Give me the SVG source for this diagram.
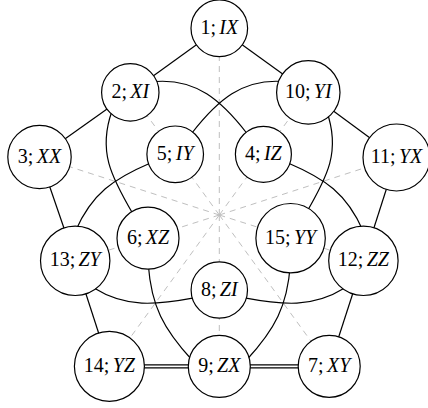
<svg xmlns="http://www.w3.org/2000/svg" width="428" height="408" viewBox="0 0 428 408">
<style>
.bg{fill:#ffffff}
.e{fill:none;stroke:#000;stroke-width:1.2}
.d{fill:none;stroke:#bfbfbf;stroke-width:1;stroke-dasharray:6 5}
.dbo{fill:none;stroke:#000;stroke-width:4.2}
.dbi{fill:none;stroke:#fff;stroke-width:1.8}
.n circle{fill:#fff;stroke:#000;stroke-width:1.2}
.n text{font-family:"Liberation Serif","DejaVu Serif",serif;font-size:20px;fill:#000;text-anchor:middle}
.i{font-style:italic}
</style>
<rect class="bg" x="0" y="0" width="428" height="408"/>
<g id="guides">
<line class="d" x1="219.3" y1="215" x2="219.3" y2="28.3"/>
<line class="d" x1="219.3" y1="215" x2="308.3" y2="92.4"/>
<line class="d" x1="219.3" y1="215" x2="396.5" y2="157.5"/>
<line class="d" x1="219.3" y1="215" x2="363.4" y2="260.8"/>
<line class="d" x1="219.3" y1="215" x2="329.2" y2="366.3"/>
<line class="d" x1="219.3" y1="215" x2="219.3" y2="366.4"/>
<line class="d" x1="219.3" y1="215" x2="109.4" y2="366.3"/>
<line class="d" x1="219.3" y1="215" x2="75.2" y2="260.8"/>
<line class="d" x1="219.3" y1="215" x2="39.5" y2="157"/>
<line class="d" x1="219.3" y1="215" x2="130.3" y2="92.4"/>
</g>
<g id="connectors">
<line class="e" x1="219.3" y1="28.3" x2="130.3" y2="92.4"/>
<line class="e" x1="219.3" y1="28.3" x2="308.3" y2="92.4"/>
<line class="e" x1="130.3" y1="92.4" x2="39.5" y2="157"/>
<line class="e" x1="308.3" y1="92.4" x2="396.5" y2="157.5"/>
<line class="e" x1="39.5" y1="157" x2="75.2" y2="260.8"/>
<line class="e" x1="396.5" y1="157.5" x2="363.4" y2="260.8"/>
<line class="e" x1="75.2" y1="260.8" x2="109.4" y2="366.3"/>
<line class="e" x1="363.4" y1="260.8" x2="329.2" y2="366.3"/>
<path class="e" d="M155.5,81.5 C196,78.5 221,100 247,133.5"/>
<path class="e" d="M283.1,81.5 C242.6,78.5 217.6,100 191.6,133.5"/>
<path class="e" d="M112,111 C97.7,151 111,176.4 133,214"/>
<path class="e" d="M326.6,111 C340.9,151 327.6,176.4 305.6,214"/>
<path class="e" d="M150.5,163 C113.5,178.8 92,193.4 75.5,231"/>
<path class="e" d="M288.1,163 C325.1,178.8 346.6,193.4 363.1,231"/>
<path class="e" d="M94,288 C126,308 156,305 194,297.8"/>
<path class="e" d="M344.6,288 C312.6,308 282.6,305 244.6,297.8"/>
<path class="e" d="M148.3,265 C151.3,306 163.5,329.1 192,360"/>
<path class="e" d="M290.3,265 C287.3,306 275.1,329.1 246.6,360"/>
<line class="dbo" x1="109.4" y1="366.3" x2="219.3" y2="366.3"/>
<line class="dbi" x1="109.4" y1="366.3" x2="219.3" y2="366.3"/>
<line class="dbo" x1="219.3" y1="366.3" x2="329.2" y2="366.3"/>
<line class="dbi" x1="219.3" y1="366.3" x2="329.2" y2="366.3"/>
</g>
<g id="n1" class="n"><circle cx="219.3" cy="28.3" r="28.3"/><text x="219.3" y="33.9">1;<tspan class="i" dx="3.3">IX</tspan></text></g>
<g id="n2" class="n"><circle cx="130.3" cy="92.4" r="28.7"/><text x="130.3" y="98">2;<tspan class="i" dx="3.3">XI</tspan></text></g>
<g id="n10" class="n"><circle cx="308.3" cy="92.4" r="31.7"/><text x="308.3" y="98">10;<tspan class="i" dx="3.3">YI</tspan></text></g>
<g id="n3" class="n"><circle cx="39.5" cy="157" r="31.7"/><text x="39.5" y="162.6">3;<tspan class="i" dx="3.3">XX</tspan></text></g>
<g id="n11" class="n"><circle cx="396.5" cy="157.5" r="33.5"/><text x="396.5" y="163.1">11;<tspan class="i" dx="3.3">YX</tspan></text></g>
<g id="n5" class="n"><circle cx="175.2" cy="154.3" r="28.3"/><text x="175.2" y="159.9">5;<tspan class="i" dx="3.3">IY</tspan></text></g>
<g id="n4" class="n"><circle cx="263.4" cy="154.3" r="28"/><text x="263.4" y="159.9">4;<tspan class="i" dx="3.3">IZ</tspan></text></g>
<g id="n13" class="n"><circle cx="75.2" cy="260.8" r="34.7"/><text x="75.2" y="266.4">13;<tspan class="i" dx="3.3">ZY</tspan></text></g>
<g id="n6" class="n"><circle cx="148" cy="238.2" r="31"/><text x="148" y="243.8">6;<tspan class="i" dx="3.3">XZ</tspan></text></g>
<g id="n15" class="n"><circle cx="290.6" cy="238.2" r="34.7"/><text x="290.6" y="243.8">15;<tspan class="i" dx="3.3">YY</tspan></text></g>
<g id="n12" class="n"><circle cx="363.4" cy="260.8" r="34.7"/><text x="363.4" y="266.4">12;<tspan class="i" dx="3.3">ZZ</tspan></text></g>
<g id="n8" class="n"><circle cx="219.3" cy="290" r="28.2"/><text x="219.3" y="295.6">8;<tspan class="i" dx="3.3">ZI</tspan></text></g>
<g id="n14" class="n"><circle cx="109.4" cy="366.3" r="35"/><text x="109.4" y="371.9">14;<tspan class="i" dx="3.3">YZ</tspan></text></g>
<g id="n9" class="n"><circle cx="219.3" cy="366.4" r="31"/><text x="219.3" y="372">9;<tspan class="i" dx="3.3">ZX</tspan></text></g>
<g id="n7" class="n"><circle cx="329.2" cy="366.3" r="31"/><text x="329.2" y="371.9">7;<tspan class="i" dx="3.3">XY</tspan></text></g>
</svg>
